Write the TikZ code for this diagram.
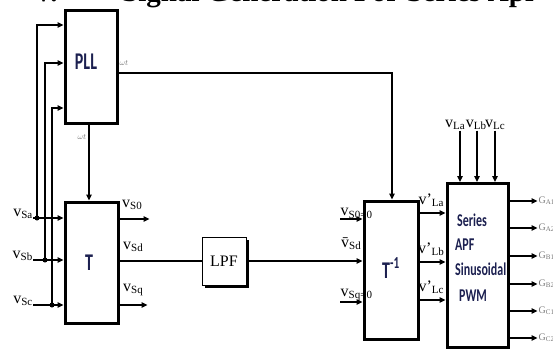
\documentclass[tikz,border=0pt]{standalone}
\usepackage{fontspec}
\usepackage{graphicx}
\setmainfont{Liberation Serif}
\newfontfamily\calib{Carlito}
\usetikzlibrary{arrows.meta, calc, positioning, shadows}

\definecolor{boxink}{RGB}{28,32,80}
\definecolor{faint}{RGB}{120,120,120}
\newcommand\sbs[1]{\raisebox{-2.5pt}{\fontsize{11}{11}\selectfont #1}}
\newcommand\tall[1]{\scalebox{1}[1.5]{#1}}

\begin{document}
\begin{tikzpicture}[x=1pt, y=-1pt,
  blk/.style={draw, line width=3pt, inner sep=0pt},
  sig/.style={line width=1.4pt, -{Triangle[length=6pt, width=5.5pt]}},
  wire/.style={line width=1.4pt},
  lbl/.style={inner sep=0.5pt, font=\fontsize{16}{16}\selectfont},
  glbl/.style={inner sep=0.5pt, anchor=west, text=faint, font=\fontsize{10}{10}\selectfont},
  wlbl/.style={inner sep=0pt, text=faint, font=\fontsize{8}{8}\selectfont},
  boxtxt/.style={inner sep=0pt, text=boxink, font=\calib\bfseries\fontsize{16}{16}\selectfont},
  apftxt/.style={inner sep=0pt, anchor=west, text=boxink, font=\calib\bfseries\fontsize{12}{12}\selectfont},
  jdot/.style={circle, fill, inner sep=0pt, minimum size=5pt}]

  \useasboundingbox (0,0) rectangle (553,354);
  \clip (0,0) rectangle (553,354);

  % heading, cut by the top edge
  \node[anchor=base west, inner sep=0pt, font=\bfseries\fontsize{29}{29}\selectfont] (hdnum) at (33,1) {V.};
  \node[anchor=base west, inner sep=0pt, font=\bfseries\fontsize{29}{29}\selectfont] (hdtxt) at (122,1) {Signal Generation For Series Apf};

  % blocks
  \node[blk, minimum width=52pt, minimum height=113pt] (pll) at (91,66.5) {};
  \node[boxtxt] (pllt) at (86,62) {\tall{PLL}};
  \node[blk, minimum width=53pt, minimum height=121pt] (t) at (91.5,262.5) {};
  \node[boxtxt] (tt) at (89,263) {\tall{T}};
  \node[draw, line width=1pt, fill=white, minimum width=44pt, minimum height=48pt,
        drop shadow={shadow xshift=3pt, shadow yshift=-3pt, opacity=1, fill=black}] (lpf) at (224,261)
        {\fontsize{16}{16}\selectfont LPF};
  \node[blk, minimum width=54pt, minimum height=138pt] (tinv) at (391,270) {};
  \node[boxtxt] (tinvt) at (391,268) {\tall{T\textsuperscript{-1}}};
  \node[blk, minimum width=61pt, minimum height=164pt] (apf) at (477.5,265.5) {};
  \node[apftxt] (apft1) at (457,220) {\tall{Series}};
  \node[apftxt] (apft2) at (455,245) {\tall{APF}};
  \node[apftxt] (apft3) at (455,269) {\tall{Sinusoidal}};
  \node[apftxt] (apft4) at (459,296) {\tall{PWM}};

  % supply voltages
  \node[lbl, anchor=east] (vsa) at (33,214) {v\sbs{Sa}};
  \node[lbl, anchor=east] (vsb) at (33,256) {v\sbs{Sb}};
  \node[lbl, anchor=east] (vsc) at (33,301) {v\sbs{Sc}};
  \node[jdot] (ja) at (37,218) {};
  \node[jdot] (jb) at (45,260) {};
  \node[jdot] (jc) at (52,305) {};
  \draw[sig] (vsa.east |- ja) -- (ja -| t.west);
  \draw[sig] (vsb.east |- jb) -- (jb -| t.west);
  \draw[sig] (vsc.east |- jc) -- (jc -| t.west);
  \draw[sig] (ja.center) |- (pll.west |- 0,25);
  \draw[sig] (jb.center) |- (pll.west |- 0,63);
  \draw[sig] (jc.center) |- (pll.west |- 0,108);

  % angle from the PLL
  \draw[sig] (pll.south -| 89,0) -- (t.north -| 89,0);
  \draw[sig] (pll.east |- 0,73) -| (tinv.north -| 392,0);
  \node[wlbl] (wt1) at (124,63) {$\omega t$};
  \node[wlbl] (wt2) at (82,137) {$\omega t$};

  % dq0 outputs
  \draw[sig] (t.east |- 0,219) -- ++(30,0) coordinate (s0out);
  \draw[wire] (lpf.west -| t.east) -- (lpf.west);
  \draw[sig] (t.east |- 0,305) -- ++(28,0) coordinate (sqout);
  \node[lbl] (vs0) at (132,205) {v\sbs{S0}};
  \node[lbl] (vsd) at (133,247) {v\sbs{Sd}};
  \node[lbl] (vsq) at (133,290) {v\sbs{Sq}};

  % inverse transform inputs
  \coordinate (s0in) at (340,219);
  \coordinate (sqin) at (340,302);
  \draw[sig] (s0in) -- (s0in -| tinv.west);
  \draw[sig] (lpf.east) -- (lpf.east -| tinv.west);
  \draw[sig] (sqin) -- (sqin -| tinv.west);
  \node[lbl, anchor=south west] (vs00) at (s0in) {v\sbs{S0=0}};
  \node[lbl] (vsdb) at (351,244) {\=v\sbs{Sd}};
  \node[lbl, anchor=south west] (vsq0) at (sqin) {v\sbs{Sq=0}};

  % reference voltages
  \draw[sig] (tinv.east |- 0,213) -- (apf.west |- 0,213);
  \draw[sig] (tinv.east |- 0,262) -- (apf.west |- 0,262);
  \draw[sig] (tinv.east |- 0,300) -- (apf.west |- 0,300);
  \node[lbl] (vla1) at (431,200) {v'\sbs{La}};
  \node[lbl] (vlb1) at (431,249) {v'\sbs{Lb}};
  \node[lbl] (vlc1) at (431,287) {v'\sbs{Lc}};

  % load voltages
  \node[lbl] (vla) at (455,125) {v\sbs{La}};
  \node[lbl] (vlb) at (476,125) {v\sbs{Lb}};
  \node[lbl] (vlc) at (495,125) {v\sbs{Lc}};
  \draw[sig] (vla.south -| 460,0) -- (apf.north -| 460,0);
  \draw[sig] (vlb.south -| 477,0) -- (apf.north -| 477,0);
  \draw[sig] (vlc.south -| 495,0) -- (apf.north -| 495,0);

  % gate signals
  \draw[sig] (apf.east |- 0,201) -- ++(28,0) node[glbl, above right=-5pt and 0pt] (ga1) {G\textsubscript{A1}};
  \draw[sig] (apf.east |- 0,228) -- ++(28,0) node[glbl, above right=-5pt and 0pt] (ga2) {G\textsubscript{A2}};
  \draw[sig] (apf.east |- 0,256) -- ++(28,0) node[glbl, above right=-5pt and 0pt] (gb1) {G\textsubscript{B1}};
  \draw[sig] (apf.east |- 0,284) -- ++(28,0) node[glbl, above right=-5pt and 0pt] (gb2) {G\textsubscript{B2}};
  \draw[sig] (apf.east |- 0,311) -- ++(28,0) node[glbl, above right=-5pt and 0pt] (gc1) {G\textsubscript{C1}};
  \draw[sig] (apf.east |- 0,338) -- ++(28,0) node[glbl, above right=-5pt and 0pt] (gc2) {G\textsubscript{C2}};
\end{tikzpicture}
\end{document}
